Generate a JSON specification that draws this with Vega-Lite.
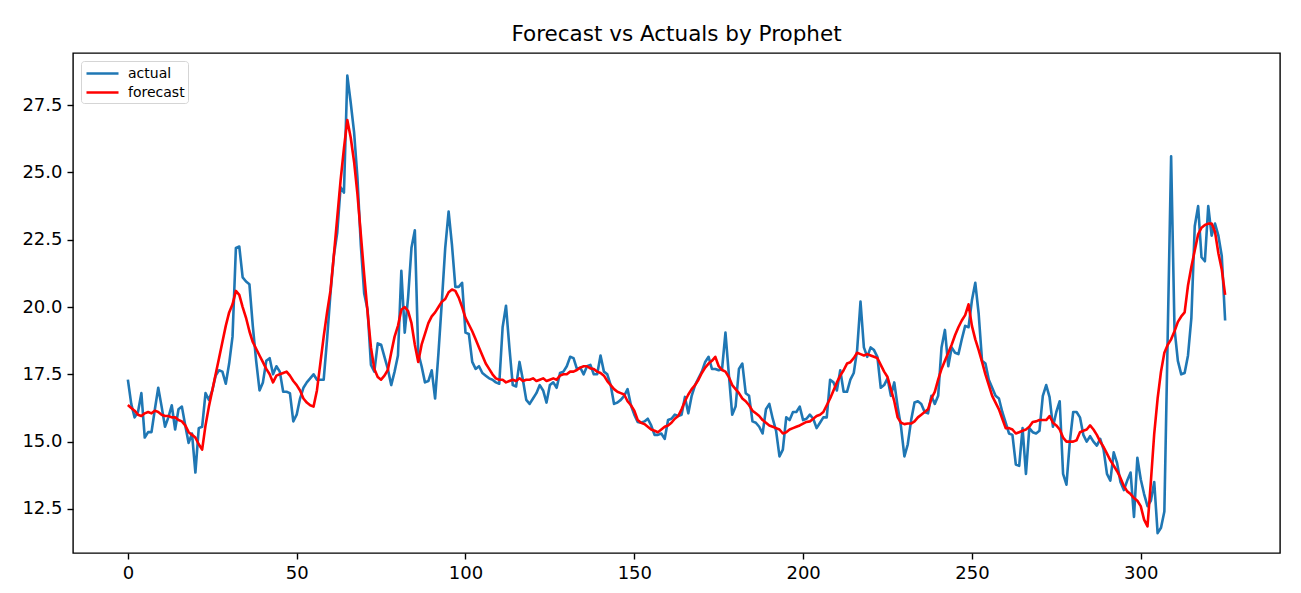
{
  "$schema": "https://vega.github.io/schema/vega-lite/v6.json",
  "width": 1207,
  "height": 500,
  "autosize": {"type": "none"},
  "padding": {"left": 73, "top": 53, "right": 21, "bottom": 40},
  "background": "white",
  "title": {"text": "Forecast vs Actuals by Prophet", "font": "DejaVu Sans", "fontSize": 21.5, "fontWeight": "normal", "color": "black", "anchor": "middle", "baseline": "alphabetic", "offset": 11, "dy": 20},
  "data": {"values": [
    {"i":0,"actual":17.3,"forecast":16.36},{"i":1,"actual":16.4,"forecast":16.25},{"i":2,"actual":15.9,"forecast":16.15},{"i":3,"actual":16.1,"forecast":16.0},{"i":4,"actual":16.8,"forecast":15.95},
    {"i":5,"actual":15.15,"forecast":16.05},{"i":6,"actual":15.35,"forecast":16.1},{"i":7,"actual":15.35,"forecast":16.05},{"i":8,"actual":16.2,"forecast":16.15},{"i":9,"actual":17.0,"forecast":16.1},
    {"i":10,"actual":16.3,"forecast":16.0},{"i":11,"actual":15.55,"forecast":15.95},{"i":12,"actual":15.9,"forecast":15.95},{"i":13,"actual":16.35,"forecast":15.9},{"i":14,"actual":15.45,"forecast":15.9},
    {"i":15,"actual":16.2,"forecast":15.8},{"i":16,"actual":16.3,"forecast":15.75},{"i":17,"actual":15.6,"forecast":15.6},{"i":18,"actual":14.95,"forecast":15.35},{"i":19,"actual":15.3,"forecast":15.25},
    {"i":20,"actual":13.85,"forecast":15.15},{"i":21,"actual":15.5,"forecast":14.9},{"i":22,"actual":15.55,"forecast":14.7},{"i":23,"actual":16.8,"forecast":15.6},{"i":24,"actual":16.55,"forecast":16.3},
    {"i":25,"actual":16.9,"forecast":16.9},{"i":26,"actual":17.45,"forecast":17.5},{"i":27,"actual":17.65,"forecast":18.1},{"i":28,"actual":17.6,"forecast":18.7},{"i":29,"actual":17.15,"forecast":19.3},
    {"i":30,"actual":17.9,"forecast":19.8},{"i":31,"actual":18.9,"forecast":20.1},{"i":32,"actual":22.2,"forecast":20.6},{"i":33,"actual":22.25,"forecast":20.45},{"i":34,"actual":21.1,"forecast":20.0},
    {"i":35,"actual":20.95,"forecast":19.6},{"i":36,"actual":20.85,"forecast":19.1},{"i":37,"actual":19.3,"forecast":18.7},{"i":38,"actual":18.0,"forecast":18.45},{"i":39,"actual":16.9,"forecast":18.2},
    {"i":40,"actual":17.2,"forecast":17.95},{"i":41,"actual":18.0,"forecast":17.7},{"i":42,"actual":18.1,"forecast":17.5},{"i":43,"actual":17.5,"forecast":17.2},{"i":44,"actual":17.8,"forecast":17.45},
    {"i":45,"actual":17.6,"forecast":17.5},{"i":46,"actual":16.85,"forecast":17.55},{"i":47,"actual":16.85,"forecast":17.6},{"i":48,"actual":16.8,"forecast":17.45},{"i":49,"actual":15.75,"forecast":17.25},
    {"i":50,"actual":16.0,"forecast":17.1},{"i":51,"actual":16.6,"forecast":16.9},{"i":52,"actual":17.0,"forecast":16.6},{"i":53,"actual":17.2,"forecast":16.45},{"i":54,"actual":17.35,"forecast":16.35},
    {"i":55,"actual":17.5,"forecast":16.3},{"i":56,"actual":17.3,"forecast":16.9},{"i":57,"actual":17.3,"forecast":17.9},{"i":58,"actual":17.3,"forecast":18.9},{"i":59,"actual":18.8,"forecast":19.8},
    {"i":60,"actual":20.5,"forecast":20.6},{"i":61,"actual":21.9,"forecast":21.9},{"i":62,"actual":22.75,"forecast":23.3},{"i":63,"actual":24.45,"forecast":24.7},{"i":64,"actual":24.25,"forecast":25.9},
    {"i":65,"actual":28.6,"forecast":26.95},{"i":66,"actual":27.6,"forecast":26.3},{"i":67,"actual":26.5,"forecast":25.4},{"i":68,"actual":24.8,"forecast":24.2},{"i":69,"actual":22.3,"forecast":22.7},
    {"i":70,"actual":20.5,"forecast":21.2},{"i":71,"actual":19.9,"forecast":19.8},{"i":72,"actual":17.85,"forecast":18.5},{"i":73,"actual":17.6,"forecast":17.7},{"i":74,"actual":18.65,"forecast":17.4},
    {"i":75,"actual":18.6,"forecast":17.3},{"i":76,"actual":18.15,"forecast":17.45},{"i":77,"actual":17.7,"forecast":17.66},{"i":78,"actual":17.1,"forecast":18.3},{"i":79,"actual":17.6,"forecast":18.9},
    {"i":80,"actual":18.2,"forecast":19.3},{"i":81,"actual":21.35,"forecast":19.9},{"i":82,"actual":19.05,"forecast":20.0},{"i":83,"actual":20.35,"forecast":19.85},{"i":84,"actual":22.2,"forecast":19.4},
    {"i":85,"actual":22.85,"forecast":18.6},{"i":86,"actual":18.3,"forecast":17.96},{"i":87,"actual":17.8,"forecast":18.6},{"i":88,"actual":17.2,"forecast":19.0},{"i":89,"actual":17.25,"forecast":19.4},
    {"i":90,"actual":17.65,"forecast":19.65},{"i":91,"actual":16.6,"forecast":19.8},{"i":92,"actual":18.3,"forecast":20.0},{"i":93,"actual":20.2,"forecast":20.2},{"i":94,"actual":22.2,"forecast":20.3},
    {"i":95,"actual":23.55,"forecast":20.55},{"i":96,"actual":22.3,"forecast":20.65},{"i":97,"actual":20.75,"forecast":20.6},{"i":98,"actual":20.75,"forecast":20.35},{"i":99,"actual":20.9,"forecast":20.0},
    {"i":100,"actual":19.05,"forecast":19.6},{"i":101,"actual":19.0,"forecast":19.35},{"i":102,"actual":17.96,"forecast":19.1},{"i":103,"actual":17.7,"forecast":18.8},{"i":104,"actual":17.8,"forecast":18.5},
    {"i":105,"actual":17.55,"forecast":18.2},{"i":106,"actual":17.45,"forecast":17.9},{"i":107,"actual":17.35,"forecast":17.7},{"i":108,"actual":17.3,"forecast":17.5},{"i":109,"actual":17.2,"forecast":17.35},
    {"i":110,"actual":17.15,"forecast":17.3},{"i":111,"actual":19.25,"forecast":17.3},{"i":112,"actual":20.05,"forecast":17.2},{"i":113,"actual":18.5,"forecast":17.25},{"i":114,"actual":17.1,"forecast":17.3},
    {"i":115,"actual":17.05,"forecast":17.25},{"i":116,"actual":17.96,"forecast":17.35},{"i":117,"actual":17.3,"forecast":17.25},{"i":118,"actual":16.55,"forecast":17.3},{"i":119,"actual":16.4,"forecast":17.3},
    {"i":120,"actual":16.6,"forecast":17.35},{"i":121,"actual":16.8,"forecast":17.25},{"i":122,"actual":17.1,"forecast":17.3},{"i":123,"actual":16.9,"forecast":17.35},{"i":124,"actual":16.45,"forecast":17.25},
    {"i":125,"actual":17.1,"forecast":17.3},{"i":126,"actual":17.2,"forecast":17.35},{"i":127,"actual":17.0,"forecast":17.3},{"i":128,"actual":17.55,"forecast":17.45},{"i":129,"actual":17.6,"forecast":17.5},
    {"i":130,"actual":17.8,"forecast":17.5},{"i":131,"actual":18.15,"forecast":17.6},{"i":132,"actual":18.1,"forecast":17.6},{"i":133,"actual":17.7,"forecast":17.66},{"i":134,"actual":17.75,"forecast":17.75},
    {"i":135,"actual":17.5,"forecast":17.8},{"i":136,"actual":17.8,"forecast":17.8},{"i":137,"actual":17.85,"forecast":17.72},{"i":138,"actual":17.5,"forecast":17.7},{"i":139,"actual":17.5,"forecast":17.6},
    {"i":140,"actual":18.2,"forecast":17.55},{"i":141,"actual":17.6,"forecast":17.45},{"i":142,"actual":17.5,"forecast":17.25},{"i":143,"actual":17.1,"forecast":17.1},{"i":144,"actual":16.4,"forecast":16.95},
    {"i":145,"actual":16.45,"forecast":16.85},{"i":146,"actual":16.55,"forecast":16.8},{"i":147,"actual":16.7,"forecast":16.75},{"i":148,"actual":16.95,"forecast":16.5},{"i":149,"actual":16.35,"forecast":16.35},
    {"i":150,"actual":16.0,"forecast":16.15},{"i":151,"actual":15.73,"forecast":15.8},{"i":152,"actual":15.7,"forecast":15.7},{"i":153,"actual":15.75,"forecast":15.65},{"i":154,"actual":15.85,"forecast":15.55},
    {"i":155,"actual":15.6,"forecast":15.45},{"i":156,"actual":15.25,"forecast":15.4},{"i":157,"actual":15.25,"forecast":15.35},{"i":158,"actual":15.3,"forecast":15.45},{"i":159,"actual":15.1,"forecast":15.55},
    {"i":160,"actual":15.8,"forecast":15.6},{"i":161,"actual":15.85,"forecast":15.7},{"i":162,"actual":16.0,"forecast":15.85},{"i":163,"actual":15.95,"forecast":15.95},{"i":164,"actual":16.0,"forecast":16.2},
    {"i":165,"actual":16.66,"forecast":16.5},{"i":166,"actual":16.05,"forecast":16.75},{"i":167,"actual":16.7,"forecast":16.95},{"i":168,"actual":17.1,"forecast":17.1},{"i":169,"actual":17.35,"forecast":17.3},
    {"i":170,"actual":17.6,"forecast":17.55},{"i":171,"actual":17.96,"forecast":17.75},{"i":172,"actual":18.15,"forecast":17.9},{"i":173,"actual":17.7,"forecast":18.0},{"i":174,"actual":17.7,"forecast":18.15},
    {"i":175,"actual":17.65,"forecast":17.8},{"i":176,"actual":17.7,"forecast":17.66},{"i":177,"actual":19.05,"forecast":17.6},{"i":178,"actual":17.5,"forecast":17.4},{"i":179,"actual":16.0,"forecast":17.1},
    {"i":180,"actual":16.3,"forecast":16.95},{"i":181,"actual":17.7,"forecast":16.8},{"i":182,"actual":17.9,"forecast":16.6},{"i":183,"actual":16.8,"forecast":16.5},{"i":184,"actual":16.7,"forecast":16.35},
    {"i":185,"actual":15.75,"forecast":16.15},{"i":186,"actual":15.7,"forecast":16.05},{"i":187,"actual":15.55,"forecast":15.95},{"i":188,"actual":15.3,"forecast":15.8},{"i":189,"actual":16.2,"forecast":15.7},
    {"i":190,"actual":16.4,"forecast":15.6},{"i":191,"actual":15.85,"forecast":15.55},{"i":192,"actual":15.4,"forecast":15.5},{"i":193,"actual":14.45,"forecast":15.45},{"i":194,"actual":14.7,"forecast":15.3},
    {"i":195,"actual":15.9,"forecast":15.35},{"i":196,"actual":15.8,"forecast":15.45},{"i":197,"actual":16.1,"forecast":15.5},{"i":198,"actual":16.1,"forecast":15.55},{"i":199,"actual":16.3,"forecast":15.6},
    {"i":200,"actual":15.8,"forecast":15.67},{"i":201,"actual":15.85,"forecast":15.73},{"i":202,"actual":16.0,"forecast":15.75},{"i":203,"actual":15.85,"forecast":15.85},{"i":204,"actual":15.5,"forecast":15.95},
    {"i":205,"actual":15.7,"forecast":16.0},{"i":206,"actual":15.9,"forecast":16.1},{"i":207,"actual":15.9,"forecast":16.35},{"i":208,"actual":17.3,"forecast":16.6},{"i":209,"actual":17.2,"forecast":16.9},
    {"i":210,"actual":16.9,"forecast":17.2},{"i":211,"actual":17.65,"forecast":17.45},{"i":212,"actual":16.85,"forecast":17.65},{"i":213,"actual":16.85,"forecast":17.9},{"i":214,"actual":17.3,"forecast":17.95},
    {"i":215,"actual":17.55,"forecast":18.1},{"i":216,"actual":18.4,"forecast":18.3},{"i":217,"actual":20.2,"forecast":18.25},{"i":218,"actual":18.5,"forecast":18.2},{"i":219,"actual":18.15,"forecast":18.25},
    {"i":220,"actual":18.5,"forecast":18.2},{"i":221,"actual":18.4,"forecast":18.15},{"i":222,"actual":18.15,"forecast":18.1},{"i":223,"actual":17.0,"forecast":17.85},{"i":224,"actual":17.1,"forecast":17.6},
    {"i":225,"actual":17.35,"forecast":17.4},{"i":226,"actual":16.7,"forecast":16.95},{"i":227,"actual":17.2,"forecast":16.5},{"i":228,"actual":16.3,"forecast":15.9},{"i":229,"actual":15.55,"forecast":15.7},
    {"i":230,"actual":14.45,"forecast":15.65},{"i":231,"actual":14.9,"forecast":15.67},{"i":232,"actual":15.8,"forecast":15.67},{"i":233,"actual":16.45,"forecast":15.75},{"i":234,"actual":16.5,"forecast":15.9},
    {"i":235,"actual":16.4,"forecast":16.0},{"i":236,"actual":16.1,"forecast":16.1},{"i":237,"actual":16.05,"forecast":16.2},{"i":238,"actual":16.7,"forecast":16.6},{"i":239,"actual":16.4,"forecast":16.85},
    {"i":240,"actual":16.7,"forecast":17.3},{"i":241,"actual":18.5,"forecast":17.7},{"i":242,"actual":19.15,"forecast":18.0},{"i":243,"actual":17.8,"forecast":18.3},{"i":244,"actual":18.5,"forecast":18.6},
    {"i":245,"actual":18.3,"forecast":18.95},{"i":246,"actual":18.25,"forecast":19.25},{"i":247,"actual":18.8,"forecast":19.5},{"i":248,"actual":19.3,"forecast":19.7},{"i":249,"actual":19.25,"forecast":20.1},
    {"i":250,"actual":20.25,"forecast":19.3},{"i":251,"actual":20.9,"forecast":18.8},{"i":252,"actual":19.75,"forecast":18.4},{"i":253,"actual":18.0,"forecast":17.96},{"i":254,"actual":17.9,"forecast":17.5},
    {"i":255,"actual":17.3,"forecast":17.1},{"i":256,"actual":17.0,"forecast":16.7},{"i":257,"actual":16.7,"forecast":16.45},{"i":258,"actual":16.6,"forecast":16.2},{"i":259,"actual":16.1,"forecast":15.85},
    {"i":260,"actual":15.7,"forecast":15.5},{"i":261,"actual":15.3,"forecast":15.5},{"i":262,"actual":15.25,"forecast":15.45},{"i":263,"actual":14.15,"forecast":15.3},{"i":264,"actual":14.1,"forecast":15.35},
    {"i":265,"actual":15.5,"forecast":15.4},{"i":266,"actual":13.8,"forecast":15.45},{"i":267,"actual":15.5,"forecast":15.55},{"i":268,"actual":15.35,"forecast":15.73},{"i":269,"actual":15.3,"forecast":15.75},
    {"i":270,"actual":15.4,"forecast":15.8},{"i":271,"actual":16.7,"forecast":15.8},{"i":272,"actual":17.1,"forecast":15.8},{"i":273,"actual":16.65,"forecast":15.95},{"i":274,"actual":15.55,"forecast":15.7},
    {"i":275,"actual":16.1,"forecast":15.6},{"i":276,"actual":16.5,"forecast":15.45},{"i":277,"actual":13.8,"forecast":15.15},{"i":278,"actual":13.4,"forecast":15.0},{"i":279,"actual":15.0,"forecast":15.0},
    {"i":280,"actual":16.1,"forecast":15.0},{"i":281,"actual":16.1,"forecast":15.05},{"i":282,"actual":15.9,"forecast":15.35},{"i":283,"actual":15.25,"forecast":15.4},{"i":284,"actual":15.0,"forecast":15.45},
    {"i":285,"actual":15.2,"forecast":15.6},{"i":286,"actual":15.0,"forecast":15.45},{"i":287,"actual":14.85,"forecast":15.25},{"i":288,"actual":15.1,"forecast":15.0},{"i":289,"actual":14.7,"forecast":14.8},
    {"i":290,"actual":13.8,"forecast":14.55},{"i":291,"actual":13.55,"forecast":14.3},{"i":292,"actual":14.6,"forecast":14.1},{"i":293,"actual":14.2,"forecast":13.9},{"i":294,"actual":13.5,"forecast":13.65},
    {"i":295,"actual":13.2,"forecast":13.35},{"i":296,"actual":13.55,"forecast":13.15},{"i":297,"actual":13.85,"forecast":13.05},{"i":298,"actual":12.2,"forecast":12.9},{"i":299,"actual":14.4,"forecast":12.8},
    {"i":300,"actual":13.6,"forecast":12.6},{"i":301,"actual":13.05,"forecast":12.1},{"i":302,"actual":12.6,"forecast":11.85},{"i":303,"actual":12.8,"forecast":13.5},{"i":304,"actual":13.5,"forecast":15.3},
    {"i":305,"actual":11.6,"forecast":16.6},{"i":306,"actual":11.8,"forecast":17.6},{"i":307,"actual":12.4,"forecast":18.3},{"i":308,"actual":19.0,"forecast":18.6},{"i":309,"actual":25.6,"forecast":18.8},
    {"i":310,"actual":19.2,"forecast":19.1},{"i":311,"actual":18.0,"forecast":19.45},{"i":312,"actual":17.5,"forecast":19.65},{"i":313,"actual":17.55,"forecast":19.8},{"i":314,"actual":18.2,"forecast":20.8},
    {"i":315,"actual":19.6,"forecast":21.5},{"i":316,"actual":23.0,"forecast":22.1},{"i":317,"actual":23.75,"forecast":22.7},{"i":318,"actual":21.85,"forecast":22.95},{"i":319,"actual":21.7,"forecast":23.05},
    {"i":320,"actual":23.75,"forecast":23.1},{"i":321,"actual":22.65,"forecast":23.1},{"i":322,"actual":23.1,"forecast":22.8},{"i":323,"actual":22.65,"forecast":22.0},{"i":324,"actual":21.9,"forecast":21.4},
    {"i":325,"actual":19.5,"forecast":20.45}
  ]},
  "transform": [{"fold": ["actual", "forecast"], "as": ["series", "value"]}],
  "mark": {"type": "line", "strokeWidth": 2.6, "strokeJoin": "round"},
  "encoding": {
    "x": {
      "field": "i", "type": "quantitative",
      "scale": {"domain": [-16.25, 341.25], "nice": false, "zero": false},
      "axis": {"values": [0, 50, 100, 150, 200, 250, 300], "title": null}
    },
    "y": {
      "field": "value", "type": "quantitative",
      "scale": {"domain": [10.86, 29.44], "nice": false, "zero": false},
      "axis": {"values": [12.5, 15, 17.5, 20, 22.5, 25, 27.5], "format": ".1f", "title": null}
    },
    "color": {
      "field": "series", "type": "nominal",
      "scale": {"domain": ["actual", "forecast"], "range": ["#1f77b4", "#ff0000"]},
      "legend": {"title": null, "orient": "top-left", "offset": 8}
    }
  },
  "config": {
    "view": {"stroke": "black", "strokeWidth": 1.4},
    "axis": {
      "domain": false, "grid": false,
      "tickColor": "black", "tickSize": 6, "tickWidth": 1.4,
      "labelFont": "DejaVu Sans", "labelFontSize": 18, "labelColor": "black", "labelPadding": 5
    },
    "legend": {
      "symbolType": "M-2,0L2,0", "symbolSize": 256, "symbolStrokeWidth": 2.6, "symbolOffset": 9,
      "labelFont": "DejaVu Sans", "labelFontSize": 14, "labelColor": "black", "labelOffset": 16,
      "padding": 3, "rowPadding": 2,
      "strokeColor": "#d5d5d5", "fillColor": "white", "cornerRadius": 3
    }
  }
}
